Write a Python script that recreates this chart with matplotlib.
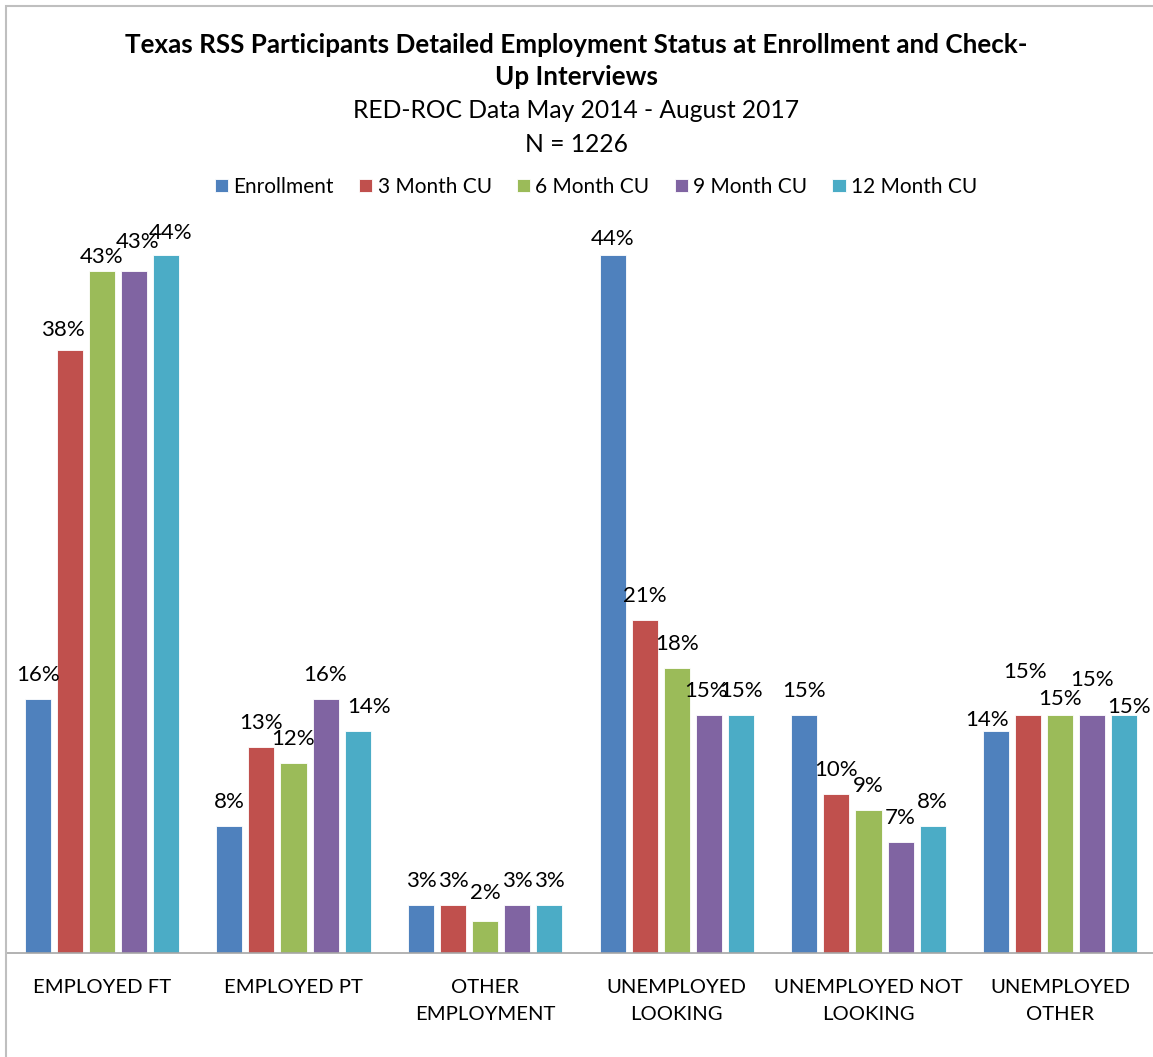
import numpy as np
import matplotlib
matplotlib.use("Agg")
import matplotlib.pyplot as plt
from matplotlib.patches import Rectangle

# data (percent)
categories = ["EMPLOYED FT", "EMPLOYED PT", "OTHER\nEMPLOYMENT",
              "UNEMPLOYED\nLOOKING", "UNEMPLOYED NOT\nLOOKING", "UNEMPLOYED\nOTHER"]
series_names = ["Enrollment", "3 Month CU", "6 Month CU", "9 Month CU", "12 Month CU"]
enrollment = [16, 8, 3, 44, 15, 14]
cu_3_month = [38, 13, 3, 21, 10, 15]
cu_6_month = [43, 12, 2, 18, 9, 15]
cu_9_month = [43, 16, 3, 15, 7, 15]
cu_12_month = [44, 14, 3, 15, 8, 15]
colors = ["#4F81BD", "#C0504D", "#9BBB59", "#8064A2", "#4BACC6"]

# label nudges like Excel's overlap avoidance: (category, series) -> (dx px, gap px above bar)
label_nudge = {
    (0, 1): (-7, 14), (0, 2): (0, 8), (0, 3): (4, 23), (0, 4): (5, 16),
    (1, 4): (11, 18), (2, 2): (0, 22), (3, 0): (0, 10), (3, 3): (-3, 18),
    (5, 0): (-9, 5), (5, 1): (-3, 37), (5, 2): (0, 10), (5, 3): (0, 29),
    (5, 4): (4.5, 2),
}
default_gap = 18

plt.rcParams["font.family"] = ["Lato", "DejaVu Sans"]

W, H = 1153, 1057
fig = plt.figure(figsize=(W / 100, H / 100), dpi=100)

# chart border (Excel style), runs off the right and bottom edges
fig.patches.append(Rectangle((6 / W, -0.1), 1.2, 1.1 - 5.5 / H,
                             transform=fig.transFigure, fill=False,
                             edgecolor="#BFBFBF", linewidth=1.5))

ymax = 46
px_per_pct = 15.86
base_y = H - 953
ax = fig.add_axes([6 / W, base_y / H, 1150 / W, ymax * px_per_pct / H])

x = np.arange(len(categories))
step = 32 / 191.6
width = 26 / 191.6
all_series = [enrollment, cu_3_month, cu_6_month, cu_9_month, cu_12_month]
pt = 72 / 100  # points per pixel

for i, (name, vals, col) in enumerate(zip(series_names, all_series, colors)):
    pos = x + (i - 2) * step
    ax.bar(pos, vals, width, color=col, label=name,
           edgecolor="white", linewidth=0.6)
    for j, (p, v) in enumerate(zip(pos, vals)):
        dx, gap = label_nudge.get((j, i), (0, default_gap))
        ax.annotate(f"{v}%", (p, v), xytext=(dx * pt, gap * pt),
                    textcoords="offset points", ha="center", va="baseline",
                    fontsize=16, color="black")

ax.set_xlim(-0.5, len(categories) - 0.5)
ax.set_ylim(0, ymax)
ax.set_yticks([])
ax.set_xticks(x)
ax.set_xticklabels(categories, fontsize=14.6, linespacing=1.72)
ax.tick_params(axis="x", length=0, pad=19)
for side in ["top", "left", "right"]:
    ax.spines[side].set_visible(False)
ax.spines["bottom"].set_color("#A6A6A6")
ax.spines["bottom"].set_linewidth(1.2)

fig.text(0.5, 1 - 45 / H, "Texas RSS Participants Detailed Employment Status at Enrollment and Check-",
         ha="center", va="center", fontsize=18.7, fontweight="bold")
fig.text(0.5, 1 - 77 / H, "Up Interviews",
         ha="center", va="center", fontsize=18.7, fontweight="bold")
fig.text(0.5, 1 - 111 / H, "RED-ROC Data May 2014 - August 2017",
         ha="center", va="center", fontsize=17.7)
fig.text(0.5, 1 - 145 / H, "N = 1226",
         ha="center", va="center", fontsize=17.7)

handles, labels = ax.get_legend_handles_labels()
fig.legend(handles, labels, loc="center", bbox_to_anchor=(596 / W, 1 - 187 / H),
           ncol=5, frameon=False, fontsize=15, handlelength=0.65, handleheight=0.62,
           handletextpad=0.25, columnspacing=1.2)

fig.savefig("out.png", dpi=100)
